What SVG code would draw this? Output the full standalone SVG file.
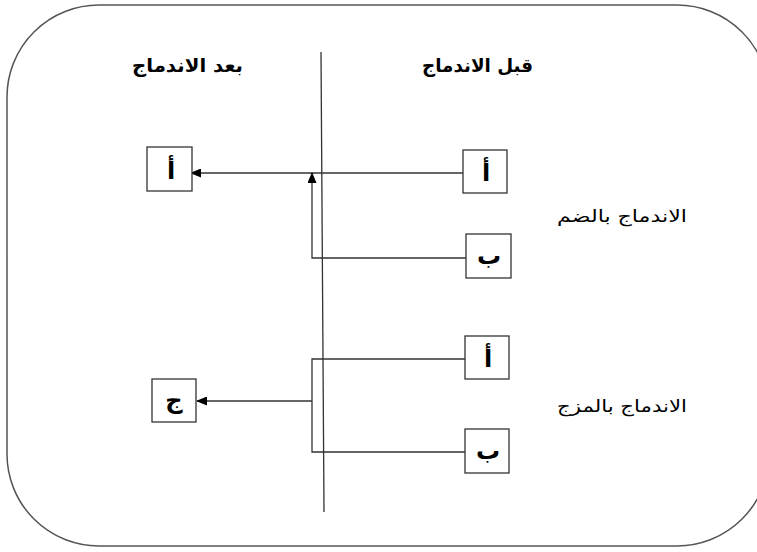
<svg xmlns="http://www.w3.org/2000/svg" width="757" height="552" viewBox="0 0 757 552">
<style>
.frame{fill:#fff;stroke:#555;stroke-width:1.5}
.box{fill:#fff;stroke:#333;stroke-width:1.3}
.ln{fill:none;stroke:#333;stroke-width:1.3}
.hd{font-family:"DejaVu Sans",sans-serif;font-weight:bold;font-size:19px;fill:#000}
.lb{font-family:"DejaVu Sans",sans-serif;font-size:17px;fill:#000}
.bx{font-family:"DejaVu Sans",sans-serif;font-weight:bold;font-size:24px;fill:#000;text-anchor:middle}
</style>
<defs>
<marker id="ah" markerWidth="11" markerHeight="9" refX="10" refY="4.5" orient="auto" markerUnits="userSpaceOnUse">
<path d="M0,0 L11,4.5 L0,9 Z" fill="#000"/>
</marker>
</defs>
<rect class="frame" x="7" y="5" width="762" height="541" rx="92" ry="92"/>
<g id="headers">
<text class="hd" x="243" y="72" direction="rtl" textLength="111" lengthAdjust="spacingAndGlyphs">بعد الاندماج</text>
<text class="hd" x="533" y="72" direction="rtl" textLength="111" lengthAdjust="spacingAndGlyphs">قبل الاندماج</text>
</g>
<g id="labels">
<text class="lb" x="687" y="222" direction="rtl" textLength="130" lengthAdjust="spacingAndGlyphs">الاندماج بالضم</text>
<text class="lb" x="687" y="412" direction="rtl" textLength="130" lengthAdjust="spacingAndGlyphs">الاندماج بالمزج</text>
</g>
<g id="connectors">
<line class="ln" x1="321" y1="52" x2="324" y2="512"/>
<line class="ln" x1="463" y1="173" x2="191" y2="173" marker-end="url(#ah)"/>
<polyline class="ln" points="466,258 312,258 312,173" marker-end="url(#ah)"/>
<polyline class="ln" points="465,359 312,359 312,452 465,452"/>
<line class="ln" x1="312" y1="401" x2="197" y2="401" marker-end="url(#ah)"/>
</g>
<g id="before-merge-a">
<rect class="box" x="463" y="150" width="44" height="43"/>
<text class="bx" x="486" y="181">أ</text>
</g>
<g id="before-merge-b">
<rect class="box" x="466" y="234" width="45" height="44"/>
<text class="bx" x="489" y="264">ب</text>
</g>
<g id="after-merge-a">
<rect class="box" x="147" y="147" width="45" height="44"/>
<text class="bx" x="171" y="179">أ</text>
</g>
<g id="before-mix-a">
<rect class="box" x="465" y="336" width="44" height="43"/>
<text class="bx" x="488" y="367">أ</text>
</g>
<g id="before-mix-b">
<rect class="box" x="465" y="429" width="44" height="44"/>
<text class="bx" x="488" y="459">ب</text>
</g>
<g id="after-mix-c">
<rect class="box" x="152" y="379" width="44" height="43"/>
<text class="bx" x="174" y="408">ج</text>
</g>
</svg>
